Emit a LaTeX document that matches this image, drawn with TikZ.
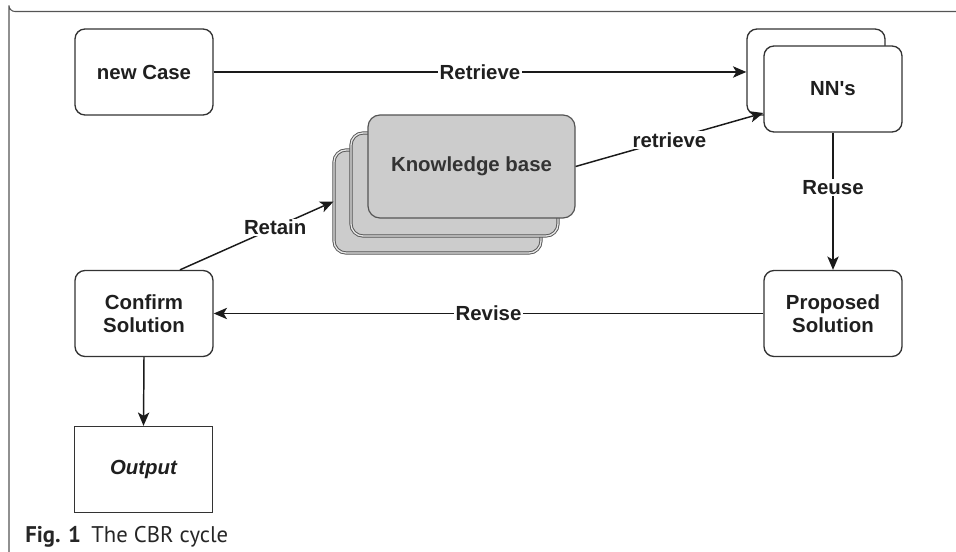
\documentclass[tikz,border=0pt]{standalone}
\usepackage{fontspec}
\setmainfont{Liberation Sans}
\newfontfamily\capfont{PT Sans}
\usetikzlibrary{arrows.meta,calc}
\definecolor{edgec}{HTML}{1A1A1A}
\definecolor{boxc}{HTML}{333333}
\definecolor{kbfill}{HTML}{CCCCCC}
\definecolor{kbline}{HTML}{555555}
\definecolor{framec}{HTML}{555555}
\tikzset{
  stepbox/.style={draw=boxc, line width=1pt, rounded corners=7.5pt, fill=white,
    minimum width=103.5pt, minimum height=64.5pt, align=center,
    font=\fontsize{15.3}{17.5}\selectfont\bfseries, text=black!88, inner sep=2pt},
  outbox/.style={stepbox, rounded corners=0pt},
  kbbox/.style={draw=kbline, line width=0.7pt, double=kbfill!50, double distance=1pt,
    rounded corners=9pt, fill=kbfill, minimum width=155.25pt, minimum height=77.25pt,
    font=\fontsize{15.3}{17.5}\selectfont\bfseries, text=black!80},
  kbfront/.style={draw=kbline, line width=0.9pt, rounded corners=9pt, fill=kbfill,
    minimum width=155.25pt, minimum height=77.25pt,
    font=\fontsize{15.3}{17.5}\selectfont\bfseries, text=black!80},
  conn/.style={draw=edgec, line width=1.1pt, -{Stealth[length=10pt,width=8.5pt,inset=2.5pt]}},
  lbl/.style={fill=white, inner sep=1pt, font=\fontsize{15.3}{17.5}\selectfont\bfseries, text=black!88}
}
\begin{document}
\begin{tikzpicture}[x=0.75pt,y=-0.75pt]
\useasboundingbox (0,0) rectangle (956,552);
% frame
\draw[framec, line width=0.8pt] (956,11.5) -- (15,11.5) arc[start angle=90,end angle=180,radius=6] -- (9,552);
% nodes
\node[stepbox] (newcase) at (144,72) {new Case};
\node[stepbox] (nnback) at (816,72) {};
\node[stepbox] (nnfront) at (833,89) {NN\textquotesingle s};
\node[stepbox] (proposed) at (833,313.5) {Proposed\\Solution};
\node[stepbox] (confirm) at (144,313.5) {Confirm\\Solution};
\node[outbox] (output) at (143.5,469.5) {\itshape Output};
\node[kbbox] (kbback) at (437.5,201.5) {};
\node[kbbox] (kbmid) at (454.5,184.5) {};
\node[kbfront] (kbfront) at (471.5,166.5) {Knowledge base};
% caption
\node[anchor=base west, inner sep=0pt, font=\capfont\fontsize{17}{19}\selectfont, text=black!85] (caption) at (25,542)
  {\textbf{Fig. 1}\hspace{0.45em}The CBR cycle};
% connectors
\draw[conn] (newcase.east) -- node[lbl]{Retrieve} (nnback.west);
\draw[conn] (kbfront.east) -- node[lbl]{retrieve} ([yshift=-18pt]nnfront.west);
\draw[conn] ([xshift=27pt]confirm.north) -- node[lbl,pos=0.62]{Retain} (kbback.west);
\draw[conn] (nnfront.south) -- node[lbl,pos=0.4]{Reuse} (proposed.north);
\draw[conn] (proposed.west) -- node[lbl]{Revise} (confirm.east);
\draw[conn] (confirm.south) -- (output.north);
\end{tikzpicture}
\end{document}
